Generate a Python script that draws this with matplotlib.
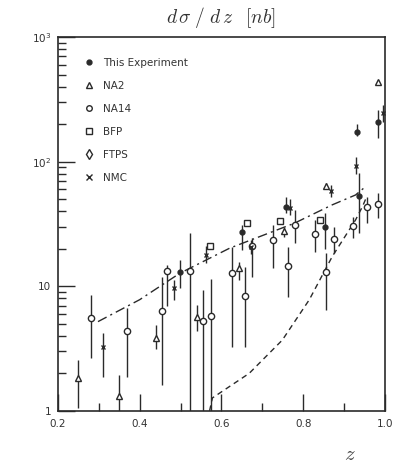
import numpy as np
import matplotlib
matplotlib.use("Agg")
import matplotlib.pyplot as plt
from matplotlib.ticker import FixedLocator, FixedFormatter, NullFormatter
from matplotlib.lines import Line2D

# ---- data (z, dsigma/dz [nb], lower, upper) ----
this_z = [0.499, 0.650, 0.758, 0.854, 0.937, 0.931, 0.983]
this_y = [12.9, 27.4, 43.6, 30.0, 52.9, 172.0, 209.0]
this_lo = [9.7, 19.5, 38.8, 20.0, 26.8, 160.0, 154.0]
this_hi = [16.2, 31.0, 52.0, 38.7, 81.0, 200.0, 259.0]

na2_z = [0.250, 0.349, 0.441, 0.541, 0.644, 0.752, 0.855, 0.983]
na2_y = [1.84, 1.32, 3.85, 5.67, 14.0, 27.7, 63.6, 435.0]
na2_lo = [1.06, 0.9, 3.14, 4.4, 11.2, 25.0, 60.0, 420.0]
na2_hi = [2.56, 1.94, 4.9, 7.1, 15.7, 30.0, 67.0, 450.0]

na14_z = [0.467, 0.676, 0.727, 0.780, 0.829, 0.876, 0.922, 0.955, 0.983]
na14_y = [13.3, 21.0, 23.5, 31.0, 26.5, 23.9, 30.6, 43.6, 45.6]
na14_lo = [7.0, 11.9, 14.0, 22.2, 19.0, 18.4, 24.2, 32.0, 35.0]
na14_hi = [14.8, 24.4, 31.0, 40.9, 34.0, 30.0, 36.0, 52.0, 56.0]

bfp_z = [0.571, 0.663, 0.744, 0.841]
bfp_y = [21.0, 32.2, 33.2, 34.0]
bfp_lo = [20.0, 30.5, 31.5, 32.5]
bfp_hi = [22.0, 34.0, 35.0, 35.5]

ftps_z = [0.281, 0.368, 0.454, 0.524, 0.556, 0.575, 0.625, 0.658, 0.762, 0.855]
ftps_y = [5.6, 4.38, 6.3, 13.3, 5.3, 5.78, 12.7, 8.4, 14.6, 12.9]
ftps_lo = [2.66, 1.87, 1.6, 0.5, 0.5, 0.5, 3.27, 3.27, 8.2, 6.45]
ftps_hi = [8.5, 6.7, 11.9, 26.8, 9.3, 11.4, 20.8, 14.3, 20.8, 18.5]

nmc_z = [0.310, 0.485, 0.563, 0.672, 0.768, 0.869, 0.928, 0.995]
nmc_y = [3.26, 9.7, 17.8, 20.5, 42.4, 58.6, 92.0, 245.0]
nmc_lo = [1.87, 7.8, 15.5, 18.0, 37.0, 52.0, 80.0, 209.0]
nmc_hi = [4.2, 11.2, 21.0, 23.5, 50.0, 65.0, 109.0, 285.0]

# model curves
dashdot_z = [0.298, 0.400, 0.498, 0.620, 0.778, 0.871, 0.928, 0.950]
dashdot_y = [5.2, 7.8, 12.7, 20.2, 32.0, 45.0, 54.0, 62.0]
dashed_z = [0.571, 0.578, 0.668, 0.749, 0.815, 0.871, 0.928, 0.945, 0.955]
dashed_y = [1.0, 1.27, 2.0, 3.7, 7.8, 17.3, 34.0, 43.6, 52.0]

ink = '#2a2a2a'

fig = plt.figure(figsize=(3.94, 4.69), dpi=100)
ax = fig.add_axes([0.147, 0.124, 0.830, 0.797])


def draw(z, y, lo, hi, marker, face, ms):
    y = np.array(y)
    err = [y - np.array(lo), np.array(hi) - y]
    ax.errorbar(z, y, yerr=err, fmt='none', ecolor=ink, elinewidth=1.0, capsize=0, zorder=2)
    ax.plot(z, y, linestyle='none', marker=marker, markersize=ms, markerfacecolor=face,
            markeredgecolor=ink, markeredgewidth=1.0, zorder=3)


ax.plot(dashdot_z, dashdot_y, color=ink, lw=1.0, linestyle=(0, (7, 3, 1.5, 3)), zorder=1)
ax.plot(dashed_z, dashed_y, color=ink, lw=1.0, linestyle=(0, (4, 3)), zorder=1)

draw(ftps_z, ftps_y, ftps_lo, ftps_hi, 'o', 'white', 4.5)
draw(na14_z, na14_y, na14_lo, na14_hi, 'o', 'white', 4.5)
draw(bfp_z, bfp_y, bfp_lo, bfp_hi, 's', 'white', 4)
draw(na2_z, na2_y, na2_lo, na2_hi, '^', 'white', 5)
draw(nmc_z, nmc_y, nmc_lo, nmc_hi, 'x', ink, 3.5)
draw(this_z, this_y, this_lo, this_hi, 'o', ink, 3.5)

ax.set_yscale('log')
ax.set_xlim(0.2, 1.0)
ax.set_ylim(1, 1000)

ax.xaxis.set_major_locator(FixedLocator([0.2, 0.4, 0.6, 0.8, 1.0]))
ax.xaxis.set_major_formatter(FixedFormatter(['0.2', '0.4', '0.6', '0.8', '1.0']))
ax.xaxis.set_minor_locator(FixedLocator([0.3, 0.5, 0.7, 0.9]))
ax.yaxis.set_major_locator(FixedLocator([1, 10, 100, 1000]))
ax.yaxis.set_major_formatter(FixedFormatter(['1', '10', r'10$^2$', r'10$^3$']))
minors = [k * 10 ** d for d in range(0, 3) for k in range(2, 10)]
ax.yaxis.set_minor_locator(FixedLocator(minors))
ax.yaxis.set_minor_formatter(NullFormatter())

ax.tick_params(which='major', direction='in', length=12, width=1.0, color=ink,
               labelsize=7.5, labelcolor='#333333', top=False, right=False)
ax.tick_params(which='minor', direction='in', length=6, width=1.0, color=ink,
               top=False, right=False)
ax.tick_params(axis='x', which='major', pad=6)
ax.tick_params(axis='y', which='major', pad=5)
for s in ax.spines.values():
    s.set_color(ink)
    s.set_linewidth(1.2)

# legend
handles = [
    Line2D([], [], ls='none', marker='o', ms=3.5, mfc=ink, mec=ink),
    Line2D([], [], ls='none', marker='^', ms=5, mfc='white', mec=ink),
    Line2D([], [], ls='none', marker='o', ms=4, mfc='white', mec=ink),
    Line2D([], [], ls='none', marker='s', ms=4, mfc='white', mec=ink),
    Line2D([], [], ls='none', marker='d', ms=5, mfc='white', mec=ink),
    Line2D([], [], ls='none', marker='x', ms=4, mfc=ink, mec=ink),
]
labels = ['This Experiment', 'NA2', 'NA14', 'BFP', 'FTPS', 'NMC']
ax.legend(handles, labels, loc='upper left', bbox_to_anchor=(0.05, 0.97), frameon=False,
          fontsize=7.5, labelspacing=1.25, handlelength=1.0, handletextpad=0.9,
          labelcolor='#333333')

fig.text(0.56, 0.962, r'$d\,\sigma\;/\;d\,z\;\;\;[nb]$', ha='center', va='center',
         fontsize=14, color='#333333', math_fontfamily='cm')
fig.text(0.888, 0.032, r'$z$', ha='center', va='center', fontsize=15, color='#444444',
         math_fontfamily='cm')

fig.savefig('out.png', dpi=100)
